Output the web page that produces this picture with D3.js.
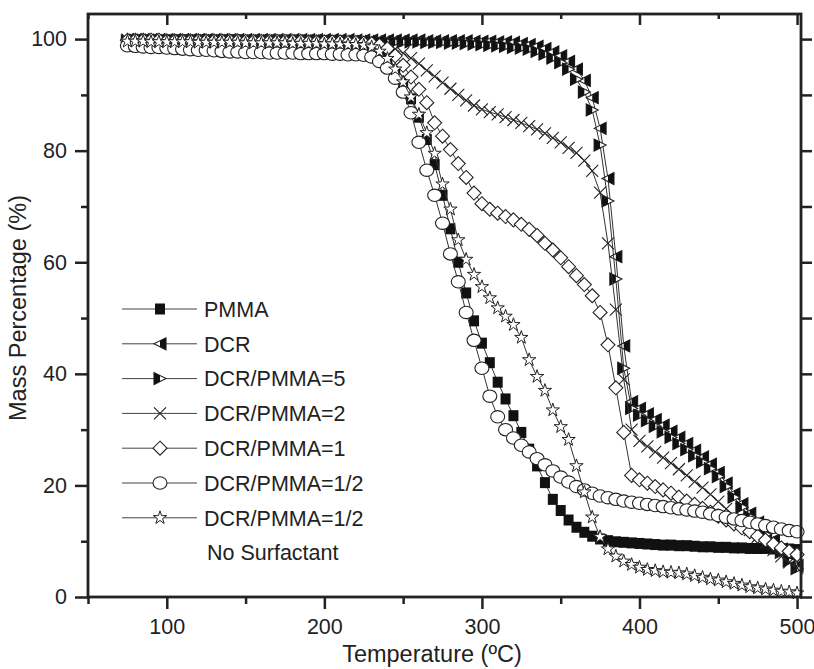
<!DOCTYPE html>
<html>
<head>
<meta charset="utf-8">
<script src="https://cdn.jsdelivr.net/npm/d3@7"></script>
<style>
body { margin: 0; background: #fff; }
text { font-family: "Liberation Sans", Arial, sans-serif; fill: #222; }
</style>
</head>
<body>
<div id="chart"></div>
<script>
// temperatures (ºC) the curves are sampled at
const temps = [75,80,85,90,95,100,105,110,115,120,125,130,135,140,145,150,155,160,165,170,
  175,180,185,190,195,200,205,210,215,220,225,230,235,240,245,250,255,260,265,270,
  275,280,285,290,295,300,305,310,315,320,325,330,335,340,345,350,355,360,365,370,
  375,380,385,390,395,400,405,410,415,420,425,430,435,440,445,450,455,460,465,470,
  475,480,485,490,495,500];

const pmma = [99.3,99.2,99.1,99.1,99.0,99.0,99.0,99.0,98.9,98.9,
  98.9,98.9,98.9,98.8,98.8,98.8,98.8,98.8,98.8,98.7,
  98.7,98.7,98.7,98.7,98.6,98.6,98.6,98.6,98.5,98.5,
  98.4,98.2,97.6,96.5,94.5,92.0,89.3,86.0,82.0,77.5,
  72.0,66.0,60.0,54.5,49.5,45.5,42.0,38.5,35.5,32.5,
  29.5,26.5,23.5,20.5,17.5,15.5,13.8,12.5,11.6,10.9,
  10.4,10.1,9.9,9.8,9.7,9.6,9.5,9.4,9.3,9.3,
  9.2,9.2,9.1,9.0,9.0,8.9,8.9,8.8,8.8,8.7,
  8.7,8.7,8.6,8.6,8.6,8.5];

const dcr = [99.9,99.9,99.9,99.9,99.9,99.9,99.9,99.9,99.9,99.9,
  99.9,99.9,99.9,99.9,99.9,99.9,99.9,99.9,99.9,99.9,
  99.9,99.9,99.9,99.9,99.9,99.9,99.9,99.9,99.9,99.8,
  99.8,99.8,99.8,99.8,99.8,99.8,99.8,99.8,99.7,99.7,
  99.7,99.7,99.7,99.7,99.6,99.6,99.6,99.5,99.5,99.4,
  99.2,99.0,98.7,98.3,97.7,97.0,96.0,94.6,92.6,89.5,
  84.0,75.0,61.0,45.0,35.0,33.8,32.8,31.8,30.8,29.7,
  28.6,27.5,26.3,25.1,23.8,22.3,20.4,18.5,16.7,15.0,
  13.4,11.8,10.2,8.6,7.0,5.6];

const ratio5 = [99.7,99.7,99.7,99.7,99.7,99.7,99.7,99.7,99.7,99.7,
  99.7,99.7,99.7,99.7,99.7,99.7,99.7,99.7,99.7,99.7,
  99.7,99.7,99.7,99.7,99.7,99.7,99.6,99.6,99.6,99.6,
  99.6,99.6,99.6,99.5,99.5,99.5,99.5,99.5,99.4,99.4,
  99.4,99.3,99.3,99.2,99.1,99.0,98.9,98.8,98.7,98.5,
  98.4,98.2,97.8,97.3,96.6,95.8,94.6,92.8,90.5,87.3,
  81.0,71.0,57.0,41.0,33.8,32.6,31.6,30.6,29.6,28.6,
  27.5,26.4,25.3,24.2,23.0,21.6,19.8,17.9,16.1,14.4,
  12.8,11.2,9.6,8.0,6.5,5.1];

const ratio2 = [99.9,99.9,99.9,99.9,99.9,99.8,99.8,99.8,99.8,99.8,
  99.8,99.8,99.8,99.8,99.8,99.8,99.7,99.7,99.7,99.7,
  99.7,99.7,99.7,99.7,99.7,99.6,99.6,99.6,99.6,99.5,
  99.5,99.4,99.2,98.8,98.2,97.5,96.6,95.6,94.4,93.3,
  92.2,91.1,90.0,89.0,88.1,87.4,86.9,86.5,86.0,85.5,
  85.0,84.4,83.8,83.1,82.3,81.5,80.5,79.6,78.2,76.4,
  72.5,63.4,51.5,39.0,30.0,28.0,27.0,26.0,25.0,24.0,
  22.9,21.8,20.7,19.6,18.4,17.1,15.8,14.5,13.2,12.0,
  10.8,9.6,8.4,7.3,6.2,5.2];

const ratio1 = [99.8,99.8,99.8,99.8,99.8,99.7,99.7,99.7,99.7,99.7,
  99.7,99.7,99.7,99.7,99.7,99.6,99.6,99.6,99.6,99.6,
  99.6,99.6,99.6,99.5,99.5,99.5,99.5,99.5,99.4,99.4,
  99.3,99.2,98.9,98.3,97.0,95.3,93.2,91.0,88.6,85.0,
  82.6,80.2,77.7,75.2,72.4,70.5,69.5,68.8,68.2,67.6,
  66.8,65.9,64.8,63.4,62.2,60.8,59.2,57.6,56.0,54.0,
  51.0,45.2,37.5,29.5,21.8,21.0,20.4,19.8,19.2,18.6,
  17.9,17.2,16.6,15.9,15.2,14.5,13.8,13.1,12.4,11.7,
  10.9,10.2,9.5,8.8,8.2,7.6];

const ratioHalf = [98.8,98.7,98.6,98.5,98.5,98.4,98.3,98.2,98.1,98.0,
  98.0,97.9,97.8,97.7,97.7,97.6,97.6,97.6,97.5,97.5,
  97.5,97.5,97.4,97.4,97.4,97.4,97.3,97.3,97.2,97.2,
  97.1,96.8,96.0,94.8,93.0,90.5,86.8,81.5,76.5,72.0,
  67.0,61.5,56.5,51.0,46.0,41.0,36.0,32.3,30.0,28.5,
  27.2,26.0,24.8,23.7,22.6,21.5,20.6,19.8,19.2,18.6,
  18.1,17.8,17.5,17.2,17.0,16.8,16.6,16.4,16.2,16.0,
  15.8,15.6,15.4,15.2,14.9,14.6,14.3,14.0,13.7,13.4,
  13.1,12.8,12.5,12.2,11.9,11.7];

const ratioHalfNoSurf = [99.6,99.6,99.6,99.5,99.5,99.5,99.5,99.5,99.5,99.4,
  99.4,99.4,99.4,99.4,99.4,99.3,99.3,99.3,99.3,99.3,
  99.3,99.2,99.2,99.2,99.2,99.1,99.1,99.1,99.0,99.0,
  98.9,98.6,97.8,96.5,94.6,92.3,89.6,86.5,83.2,79.5,
  74.0,69.5,64.0,60.5,57.8,55.6,53.6,51.8,50.3,48.8,
  46.5,42.5,39.5,37.0,33.5,30.5,28.2,23.5,18.8,14.3,
  10.8,8.6,7.3,6.4,5.8,5.3,4.9,4.7,4.5,4.4,
  4.3,4.1,3.8,3.5,3.2,3.0,2.7,2.4,2.1,1.8,
  1.6,1.4,1.2,1.0,0.9,0.7];

const seriesNames = ["PMMA", "DCR", "DCR/PMMA=5", "DCR/PMMA=2", "DCR/PMMA=1", "DCR/PMMA=1/2", "DCR/PMMA=1/2"];
const seriesValues = [pmma, dcr, ratio5, ratio2, ratio1, ratioHalf, ratioHalfNoSurf];
const seriesSymbols = ["square", "triLeft", "triRight", "cross", "diamond", "circle", "star"];
const legendNote = "No Surfactant";

const xTicks = [100, 200, 300, 400, 500];
const xMinor = [50, 150, 250, 350, 450];
const yTicks = [0, 20, 40, 60, 80, 100];
const yMinor = [10, 30, 50, 70, 90];

var width = 814, height = 669;
var margin = {left: 88, top: 14, right: 13, bottom: 72};
var ink = "#222";

var svg = d3.select("#chart")
  .append("svg")
  .attr("width", width)
  .attr("height", height);

var x = d3.scaleLinear().domain([50, 502.5]).range([margin.left, width - margin.right]);
var y = d3.scaleLinear().domain([0, 104.5]).range([height - margin.bottom, margin.top]);

//draws one marker into group g, centred on 0,0
function drawMarker(g, type){
  if(type == "square"){
    g.append("rect").attr("x", -5).attr("y", -5.5).attr("width", 10).attr("height", 11).attr("fill", "#111");
  }
  else if(type == "circle"){
    g.append("ellipse").attr("rx", 7).attr("ry", 6.2).attr("fill", "#fff").attr("stroke", ink).attr("stroke-width", 1.1);
  }
  else if(type == "diamond"){
    g.append("path").attr("d", "M0,-7L7,0L0,7L-7,0Z").attr("fill", "#fff").attr("stroke", ink).attr("stroke-width", 1.1);
  }
  else if(type == "cross"){
    g.append("path").attr("d", "M-6,-6L6,6M-6,6L6,-6").attr("fill", "none").attr("stroke", ink).attr("stroke-width", 1.1);
  }
  else if(type == "star"){
    g.append("path").attr("d", d3.symbol(d3.symbolStar).size(55)()).attr("fill", "#fff").attr("stroke", ink).attr("stroke-width", 1);
  }
  else if(type == "triLeft"){
    g.append("path").attr("d", "M-6,0L6,-6L6,6Z").attr("fill", "#fff").attr("stroke", ink).attr("stroke-width", 1.1);
    g.append("path").attr("d", "M0,-3L6,-6L6,6L0,3Z").attr("fill", "#111");
  }
  else if(type == "triRight"){
    g.append("path").attr("d", "M6,0L-6,-6L-6,6Z").attr("fill", "#fff").attr("stroke", ink).attr("stroke-width", 1.1);
    g.append("path").attr("d", "M0,-3L-6,-6L-6,6L0,3Z").attr("fill", "#111");
  }
}

var line = d3.line()
  .x(function(d){ return x(d[0]); })
  .y(function(d){ return y(d[1]); });

//each series: thin line then a marker at every point
seriesValues.forEach(function(vals, i){
  var pts = temps.map(function(t, j){ return [t, vals[j]]; });
  var g = svg.append("g").attr("class", "series");
  g.append("path")
    .datum(pts)
    .attr("d", line)
    .attr("fill", "none")
    .attr("stroke", "#333")
    .attr("stroke-width", 1);
  g.selectAll("g.mark")
    .data(pts)
    .enter()
    .append("g")
    .attr("class", "mark")
    .attr("transform", function(d){ return "translate(" + x(d[0]) + "," + y(d[1]) + ")"; })
    .each(function(){ drawMarker(d3.select(this), seriesSymbols[i]); });
});

// axes
var x0 = x.range()[0], x1 = x.range()[1], y0 = y.range()[0], y1 = y.range()[1];

svg.append("g")
  .attr("transform", "translate(0," + y0 + ")")
  .call(d3.axisBottom(x).tickValues(xTicks).tickSize(12).tickPadding(10).tickFormat(d3.format("d")))
  .call(function(g){ g.select(".domain").remove(); });
svg.append("g")
  .attr("transform", "translate(0," + y0 + ")")
  .call(d3.axisBottom(x).tickValues(xMinor).tickSize(7).tickFormat(""))
  .call(function(g){ g.select(".domain").remove(); });

svg.append("g")
  .attr("transform", "translate(" + x0 + ",0)")
  .call(d3.axisLeft(y).tickValues(yTicks).tickSize(13).tickPadding(8).tickFormat(d3.format("d")))
  .call(function(g){ g.select(".domain").remove(); });
svg.append("g")
  .attr("transform", "translate(" + x0 + ",0)")
  .call(d3.axisLeft(y).tickValues(yMinor).tickSize(7).tickFormat(""))
  .call(function(g){ g.select(".domain").remove(); });

// top ticks point inward, right ticks outward
svg.append("g")
  .attr("transform", "translate(0," + y1 + ")")
  .call(d3.axisBottom(x).tickValues(xTicks).tickSize(11).tickFormat(""))
  .call(function(g){ g.select(".domain").remove(); });
svg.append("g")
  .attr("transform", "translate(0," + y1 + ")")
  .call(d3.axisBottom(x).tickValues(xMinor).tickSize(5).tickFormat(""))
  .call(function(g){ g.select(".domain").remove(); });
svg.append("g")
  .attr("transform", "translate(" + x1 + ",0)")
  .call(d3.axisRight(y).tickValues(yTicks.concat(yMinor)).tickSize(11).tickFormat(""))
  .call(function(g){ g.select(".domain").remove(); });

svg.selectAll(".tick line").attr("stroke", ink).attr("stroke-width", 2.5);
svg.selectAll(".tick text").attr("font-size", "21.5px").style("fill", ink);

svg.append("rect")
  .attr("x", x0).attr("y", y1)
  .attr("width", x1 - x0).attr("height", y0 - y1)
  .attr("fill", "none")
  .attr("stroke", ink)
  .attr("stroke-width", 2.8);

// axis titles
svg.append("text")
  .attr("x", 432).attr("y", 662)
  .attr("text-anchor", "middle")
  .attr("font-size", "23.5px")
  .text("Temperature (ºC)");

svg.append("text")
  .attr("transform", "translate(26,308) rotate(-90)")
  .attr("text-anchor", "middle")
  .attr("font-size", "23.5px")
  .text("Mass Percentage (%)");

// legend
var legend = svg.append("g").attr("transform", "translate(122,309)");
seriesNames.forEach(function(name, i){
  var row = legend.append("g").attr("transform", "translate(0," + (i * 34.8) + ")");
  row.append("line").attr("x1", 0).attr("x2", 75).attr("y1", 0).attr("y2", 0)
    .attr("stroke", "#444").attr("stroke-width", 1);
  drawMarker(row.append("g").attr("transform", "translate(38,0)"), seriesSymbols[i]);
  row.append("text").attr("x", 82).attr("y", 0).attr("dy", "0.36em")
    .attr("font-size", "21.5px").text(name);
});
legend.append("text")
  .attr("x", 85).attr("y", 7 * 34.8).attr("dy", "0.36em")
  .attr("font-size", "21.5px")
  .text(legendNote);
</script>
</body>
</html>
